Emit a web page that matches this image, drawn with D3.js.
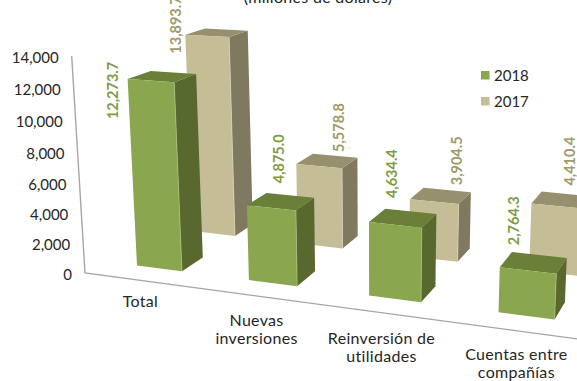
<!DOCTYPE html>
<html><head><meta charset="utf-8">
<script src="https://cdn.jsdelivr.net/npm/d3@7"></script>
<style>html,body{margin:0;padding:0;background:#fff;overflow:hidden}svg{display:block}text{font-family:Lato,"Open Sans",sans-serif}</style>
</head><body><svg id="c" width="577" height="381"></svg>
<script>
const categories = ["Total", "Nuevas inversiones", "Reinversión de utilidades", "Cuentas entre compañías"];
const categoryLines = [["Total"], ["Nuevas", "inversiones"], ["Reinversión de", "utilidades"], ["Cuentas entre", "compañías"]];
const seriesNames = ["2018", "2017"];
const values2018 = [12273.7, 4875.0, 4634.4, 2764.3];
const values2017 = [13893.7, 5578.8, 3904.5, 4410.4];
const yTicks = [0, 2000, 4000, 6000, 8000, 10000, 12000, 14000];
const titleText = "(millones de dólares)";

// Layout: three vanishing points of the perspective view
const W = 577, H = 381;
const O = [85, 273], VX = [-3000, -140], VY = [375, 5000], VZ = [856, -178];
const xWorld = d3.scaleLinear().domain([0, 1]).range([0, -0.035]);
const yWorld = d3.scaleLinear().domain([0, 14000]).range([0, -0.0439]);
const xBand = d3.scaleBand().domain(categories).range([0, 4.01]).paddingInner(0.59).paddingOuter(0.30);
const zBand = d3.scaleBand().domain(seriesNames).range([0, 0.1705]).paddingInner(0.626).paddingOuter(0.31);
function project(x, v, z) {
  const a = xWorld(x), b = yWorld(v), w = 1 + a + b + z;
  return [(O[0] + a * VX[0] + b * VY[0] + z * VZ[0]) / w,
          (O[1] + a * VX[1] + b * VY[1] + z * VZ[1]) / w];
}
const colors = {
  "2018": {front: "#8aa64e", side: "#58682f", top: "#6a8038", label: "#7f9c45", edge: "#a9bf7a"},
  "2017": {front: "#c5bd96", side: "#7f7a5f", top: "#96906f", label: "#a09a68", edge: "#d8d2b4"}
};
const series = {"2018": values2018, "2017": values2017};
// label offsets from the projected top-front-left corner of each bar
const labelOffsets = {
  "2018": [[-15, 40], [32, -22], [23, -24], [14, -22]],
  "2017": [[-9, 19], [43, -12], [47, -14], [39, -18]]
};
const catOffsets = [21, 24, 26, 24];
const fontSize = 15, wordSize = 16;

const svg = d3.select("#c");
const line = d3.line();

// title, clipped by the top edge
svg.append("text").attr("x", 318).attr("y", 3).attr("text-anchor", "middle")
  .attr("font-size", wordSize).attr("letter-spacing", 0.3).attr("fill", "#222").text(titleText);

// axes
const axisG = svg.append("g").attr("fill", "none").attr("stroke", "#a6a6a6").attr("stroke-width", 1.4);
axisG.append("path").attr("d", line([project(0, 14000, 0), project(0, 0, 0), project(4.03, 0, 0)]));

svg.append("g").selectAll("text").data(yTicks).join("text")
  .attr("x", d => project(0, d, 0)[0] - 13)
  .attr("y", d => project(0, d, 0)[1] + 2)
  .attr("dy", "0.35em").attr("text-anchor", "end")
  .attr("font-size", fontSize).attr("fill", "#262626")
  .text(d3.format(","));

// bars: rear row first
const barG = svg.append("g");
["2017", "2018"].forEach(s => {
  const z0 = zBand(s), z1 = z0 + zBand.bandwidth(), col = colors[s];
  categories.forEach((c, i) => {
    const x0 = xBand(c), x1 = x0 + xBand.bandwidth(), v = series[s][i];
    const g = barG.append("g");
    g.append("path").attr("fill", col.side).attr("d", line([project(x1, v, z0), project(x1, v, z1), project(x1, 0, z1), project(x1, 0, z0)]) + "Z");
    g.append("path").attr("fill", col.top).attr("d", line([project(x0, v, z0), project(x0, v, z1), project(x1, v, z1), project(x1, v, z0)]) + "Z");
    g.append("path").attr("fill", col.front).attr("d", line([project(x0, v, z0), project(x1, v, z0), project(x1, 0, z0), project(x0, 0, z0)]) + "Z");
    g.append("path").attr("fill", "none").attr("stroke", col.edge).attr("stroke-width", 0.8).attr("d", line([project(x1, v, z0), project(x1, 0, z0)]));
  });
});

// value labels
const fmt = d3.format(",.1f");
["2017", "2018"].forEach(s => {
  categories.forEach((c, i) => {
    const p = project(xBand(c), series[s][i], zBand(s));
    const o = labelOffsets[s][i];
    svg.append("text")
      .attr("transform", `translate(${p[0] + o[0]},${p[1] + o[1]}) rotate(-90)`)
      .attr("dy", "0.35em").attr("text-anchor", "start")
      .attr("font-size", 14.5).attr("font-weight", 700).attr("fill", colors[s].label)
      .text(fmt(series[s][i]));
  });
});

// category labels
categories.forEach((c, i) => {
  const p = project(xBand(c) + xBand.bandwidth() / 2, 0, 0);
  const t = svg.append("text").attr("text-anchor", "middle").attr("font-size", wordSize).attr("letter-spacing", 0.3).attr("fill", "#262626");
  categoryLines[i].forEach((l, k) => {
    t.append("tspan").attr("x", p[0]).attr("y", p[1] + catOffsets[i] + k * 18).attr("dy", "0.35em").text(l);
  });
});

// legend
const leg = svg.append("g").selectAll("g").data(seriesNames).join("g")
  .attr("transform", (d, i) => `translate(481,${71 + i * 26})`);
leg.append("rect").attr("width", 8.5).attr("height", 8.5).attr("fill", d => colors[d].front);
leg.append("text").attr("x", 13).attr("y", 4.5).attr("dy", "0.35em").attr("font-size", fontSize).attr("fill", "#262626").text(d => d);
</script></body></html>
